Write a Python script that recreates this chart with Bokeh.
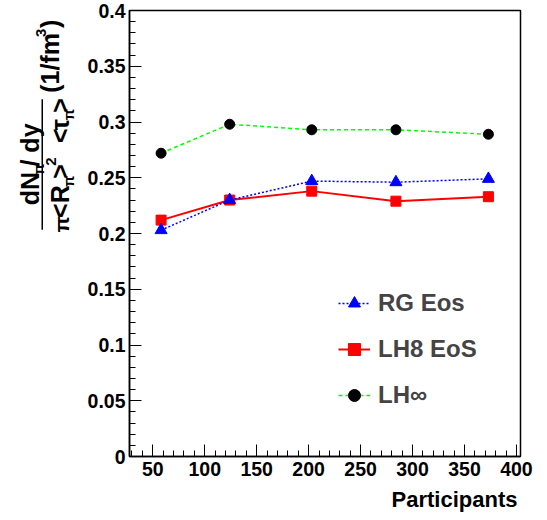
from math import pi
from bokeh.plotting import figure
from bokeh.layouts import row, column
from bokeh.models import (Label, Legend, LegendItem, BoxAnnotation, Range1d,
                          SingleIntervalTicker, CustomJSTickFormatter)
from bokeh.embed import file_html
from bokeh.resources import INLINE

# ---------------- data ----------------
participants = [58, 124, 203, 284, 373]
rg_eos = [0.203, 0.230, 0.247, 0.246, 0.249]
lh8_eos = [0.212, 0.230, 0.238, 0.229, 0.233]
lh_inf = [0.272, 0.298, 0.293, 0.293, 0.289]
series_labels = ["RG Eos", "LH8 EoS", "LH\u221e"]
x_title = "Participants"

# ---------------- geometry (canvas px) ----------------
TOTAL_W, TOTAL_H = 539, 512
YT_W = 80            # strip holding the y title
MAIN_H = 488         # main figure height
FL, FR, FT, FB = 129, 520, 10, 456   # frame edges (canvas)
X0, X1 = 27.6, 403.9
Y0, Y1 = 0.0, 0.4
FONT = "Liberation Sans"

MAIN_W = TOTAL_W - YT_W
p = figure(width=MAIN_W, height=MAIN_H, output_backend="svg", toolbar_location=None,
           x_range=Range1d(X0, X1), y_range=Range1d(Y0, Y1),
           min_border_left=FL - YT_W, min_border_right=TOTAL_W - FR,
           min_border_top=FT, min_border_bottom=MAIN_H - FB)
p.background_fill_color = "white"
p.border_fill_color = "white"
p.outline_line_color = "black"
p.outline_line_width = 1.5
p.xgrid.visible = False
p.ygrid.visible = False

fmt = CustomJSTickFormatter(code="""
    let s = tick.toFixed(2);
    s = s.replace(/0+$/, '').replace(/\\.$/, '');
    return s;
""")
p.xaxis.ticker = SingleIntervalTicker(interval=50, num_minor_ticks=5)
p.yaxis.ticker = SingleIntervalTicker(interval=0.05, num_minor_ticks=5)
p.yaxis.formatter = fmt
for ax in (p.xaxis[0], p.yaxis[0]):
    ax.axis_line_color = "black"
    ax.axis_line_width = 1.5
    ax.major_tick_in = 12
    ax.major_tick_out = 0
    ax.minor_tick_in = 6
    ax.minor_tick_out = 0
    ax.major_tick_line_color = "black"
    ax.minor_tick_line_color = "black"
    ax.major_tick_line_width = 1
    ax.minor_tick_line_width = 1
    ax.major_label_text_font = FONT
    ax.major_label_text_font_style = "bold"
    ax.major_label_text_font_size = "19.5px"
    ax.major_label_text_color = "black"
p.yaxis.major_label_standoff = 4
p.xaxis.major_label_standoff = 5

# ---------------- series ----------------
g_line = p.line(participants, lh_inf, line_color="#00ff00", line_width=1.5, line_dash="4 3")
g_pts = p.scatter(participants, lh_inf, marker="circle", size=10, fill_color="black", line_color="black")
r_line = p.line(participants, lh8_eos, line_color="#ff0000", line_width=2)
r_pts = p.scatter(participants, lh8_eos, marker="square", size=10, fill_color="#ff0000", line_color="#ff0000")
b_line = p.line(participants, rg_eos, line_color="#0000ff", line_width=1.5, line_dash="2 2")
b_pts = p.scatter(participants, rg_eos, marker="triangle", size=12, fill_color="#0000ff", line_color="#0000ff")

legend = Legend(items=[
    LegendItem(label=series_labels[0], renderers=[b_line, b_pts]),
    LegendItem(label=series_labels[1], renderers=[r_line, r_pts]),
    LegendItem(label=series_labels[2], renderers=[g_line, g_pts]),
], location=(209, 46), orientation="vertical",
   border_line_alpha=0, background_fill_alpha=0, padding=0, margin=0,
   spacing=16, glyph_width=32, glyph_height=30, label_height=30,
   label_standoff=8, label_text_font=FONT, label_text_font_style="bold",
   label_text_font_size="24px", label_text_baseline="middle")
p.add_layout(legend)

# ---------------- y title strip (x, y given in canvas px from top-left) ----------------
yt = figure(width=YT_W, height=MAIN_H, output_backend="svg", toolbar_location=None,
            x_range=Range1d(0, YT_W), y_range=Range1d(0, MAIN_H),
            x_axis_location=None, y_axis_location=None,
            min_border=0, min_border_left=0, min_border_right=0,
            min_border_top=0, min_border_bottom=0)
yt.outline_line_color = None
yt.xgrid.visible = False
yt.ygrid.visible = False
yt.background_fill_color = "white"
yt.border_fill_color = "white"

pieces = [
    # text, size, baseline x, start y (canvas, from top), align
    ("dN", 25, 38, 213, "left"),
    ("\u03c0", 15, 43, 180, "left"),
    (" / dy", 25, 38, 116, "right"),
    ("\u03c0", 21, 68, 243, "left"),
    ("<R", 25, 68, 227, "left"),
    ("\u03c0", 15, 73, 193, "left"),
    (">", 25, 68, 184, "left"),
    ("2", 15, 56, 170, "left"),
    ("<", 25, 68, 145, "left"),
    ("\u03c4", 25, 68, 131, "left"),
    ("\u03c0", 15, 73, 120, "left"),
    (">", 25, 68, 96, "right"),
    ("(1/fm", 25, 58, 90, "left"),
    ("3", 15, 46, 29, "left"),
    (")", 25, 58, 10, "right"),
]
for txt, sz, bx, sy, al in pieces:
    # anchor at the middle of the text box: ~0.35 em left of the baseline once rotated
    yt.add_layout(Label(x=bx - 0.35 * sz, y=MAIN_H - sy, text=txt, angle=pi / 2,
                        text_align=al, text_baseline="middle",
                        text_font=FONT, text_font_style="bold",
                        text_font_size=f"{sz}px", text_color="black"))
yt.add_layout(BoxAnnotation(left=41, right=42.5, bottom=MAIN_H - 240, top=MAIN_H - 97,
                            fill_color="black", fill_alpha=1, line_alpha=0))

# ---------------- x title strip ----------------
XT_H = TOTAL_H - MAIN_H
xt = figure(width=TOTAL_W, height=XT_H, output_backend="svg", toolbar_location=None,
            x_range=Range1d(0, TOTAL_W), y_range=Range1d(0, XT_H),
            x_axis_location=None, y_axis_location=None,
            min_border=0, min_border_left=0, min_border_right=0,
            min_border_top=0, min_border_bottom=0)
xt.outline_line_color = None
xt.xgrid.visible = False
xt.ygrid.visible = False
xt.background_fill_color = "white"
xt.border_fill_color = "white"
xt.add_layout(Label(x=517, y=1, text=x_title, text_align="right",
                    text_baseline="bottom", text_font=FONT,
                    text_font_style="bold", text_font_size="22px",
                    text_color="black"))

layout = column(row(yt, p, spacing=0), xt, spacing=0)
open("out.html", "w").write(file_html(layout, INLINE))
